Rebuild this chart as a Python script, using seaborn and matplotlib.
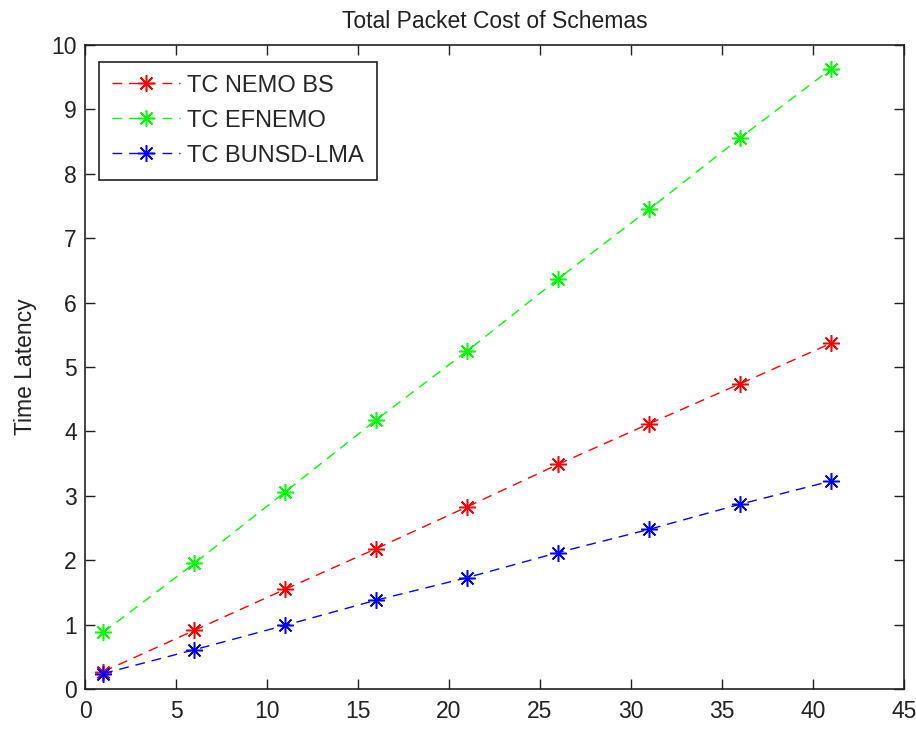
import matplotlib.pyplot as plt
import numpy as np
import pandas as pd
import seaborn as sns


x_vals = [1, 6, 11, 16, 21, 26, 31, 36, 41]
tc_nemo_bs = [0.27, 0.91, 1.55, 2.18, 2.83, 3.49, 4.12, 4.74, 5.37]
tc_efnemo = [0.88, 1.95, 3.06, 4.18, 5.25, 6.37, 7.45, 8.56, 9.63]
tc_bunsd_lma = [0.24, 0.61, 0.99, 1.38, 1.73, 2.12, 2.48, 2.87, 3.23]

series_names = ["TC NEMO BS", "TC EFNEMO", "TC BUNSD-LMA"]
colors = ["#ff0000", "#00ff00", "#0000ff"]

sns.set_theme(style="white")
plt.rcParams["font.family"] = ["Liberation Sans", "DejaVu Sans"]

fig = plt.figure(figsize=(9.16, 7.32), dpi=100)
ax = fig.add_axes([0.0928, 0.0587, 0.8941, 0.8798])

for name, vals, col in zip(series_names, [tc_nemo_bs, tc_efnemo, tc_bunsd_lma], colors):
    df = pd.DataFrame({"x": x_vals, "y": vals})
    sns.lineplot(
        data=df, x="x", y="y", ax=ax,
        color=col, label=name,
        marker=(8, 2, 0), markersize=12, markeredgewidth=1.1,
        markeredgecolor=col, markerfacecolor=col,
        linewidth=1.0, linestyle=(0, (7, 5)),
    )

ax.set_xlim(0, 45)
ax.set_ylim(0, 10)
ax.set_xticks(np.arange(0, 46, 5))
ax.set_yticks(np.arange(0, 11, 1))
ax.set_xlabel("")
ax.set_ylabel("Time Latency", fontsize=16.5, color="#222222", labelpad=10)
ax.set_title("Total Packet Cost of Schemas", fontsize=16.5, color="#222222", pad=12)

ax.tick_params(axis="both", direction="in", length=7, width=1, color="#222222",
               labelsize=16.5, labelcolor="#222222", top=True, right=True,
               bottom=True, left=True)
ax.tick_params(axis="x", pad=8)
ax.tick_params(axis="y", pad=6)
for sp in ax.spines.values():
    sp.set_color("#222222")
    sp.set_linewidth(1.2)
ax.grid(False)

leg = ax.legend(
    loc="upper left", bbox_to_anchor=(0.017, 0.974), borderaxespad=0,
    fontsize=17, fancybox=False, framealpha=1, edgecolor="#222222",
    handlelength=2.9, handletextpad=0.3, labelspacing=0.55, borderpad=0.55,
    numpoints=1,
)
leg.get_frame().set_linewidth(1.2)

fig.savefig("out.png", dpi=100)
